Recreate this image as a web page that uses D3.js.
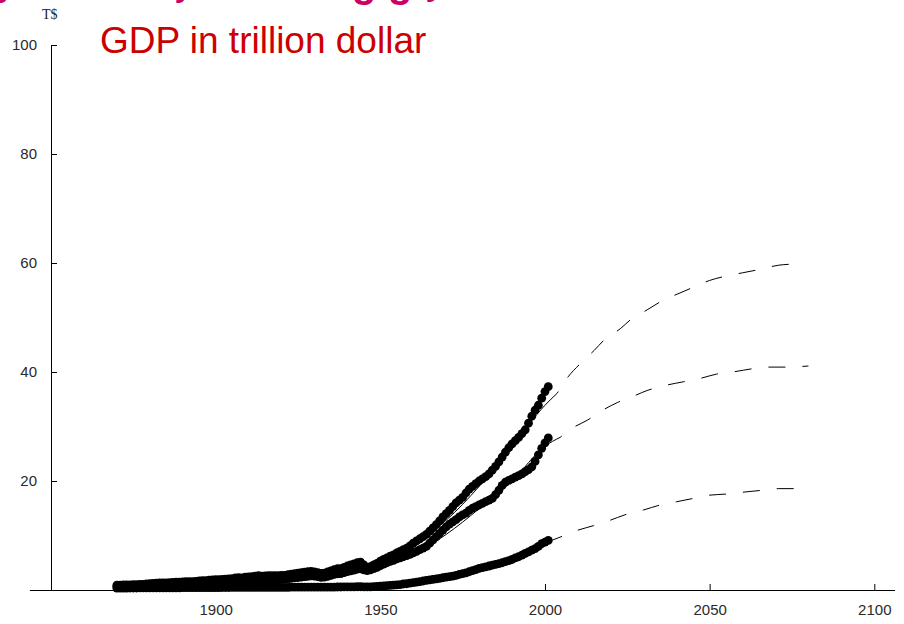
<!DOCTYPE html>
<html>
<head>
<meta charset="utf-8">
<script src="https://cdn.jsdelivr.net/npm/d3@7"></script>
<style>
  html, body { margin: 0; padding: 0; background: #fff; }
  svg { display: block; }
</style>
</head>
<body>
<svg id="chart" width="904" height="624"></svg>
<script>
// Years of the observed series (annual, 1870–2001)
const years = d3.range(1870, 2002);

// GDP in trillion dollars, three measures
const seriesHigh = [
  0.90,0.90,0.92,0.95,0.95,0.98,1.00,1.02,1.05,1.10,
  1.15,1.20,1.25,1.28,1.30,1.32,1.35,1.40,1.42,1.45,
  1.50,1.52,1.55,1.55,1.60,1.65,1.70,1.72,1.80,1.85,
  1.90,1.92,1.95,2.00,2.05,2.10,2.20,2.25,2.22,2.35,
  2.40,2.45,2.55,2.65,2.55,2.60,2.65,2.62,2.65,2.62,
  2.68,2.70,2.82,2.92,3.00,3.10,3.20,3.28,3.35,3.42,
  3.32,3.20,3.05,3.10,3.30,3.50,3.72,3.90,3.92,4.15,
  4.40,4.62,4.80,5.00,5.10,4.60,4.10,4.30,4.60,4.90,
  5.30,5.60,5.90,6.20,6.45,6.80,7.10,7.40,7.70,8.10,
  8.60,9.00,9.40,9.80,10.20,10.80,11.40,12.00,12.70,13.40,
  14.00,14.60,15.30,16.00,16.50,17.00,17.80,18.50,19.00,19.50,
  20.00,20.40,20.80,21.30,22.00,22.70,23.50,24.40,25.30,26.10,
  26.80,27.40,28.00,28.70,29.40,30.60,31.90,33.00,33.90,35.20,
  36.40,37.30
];

const seriesMid = [
  0.62,0.63,0.65,0.67,0.68,0.70,0.72,0.74,0.77,0.80,
  0.84,0.87,0.90,0.92,0.94,0.96,0.98,1.01,1.03,1.05,
  1.08,1.10,1.12,1.13,1.16,1.20,1.23,1.25,1.30,1.33,
  1.36,1.39,1.42,1.46,1.50,1.54,1.60,1.64,1.62,1.70,
  1.75,1.79,1.86,1.93,1.86,1.90,1.94,1.92,1.95,1.93,
  1.98,2.00,2.10,2.18,2.25,2.34,2.42,2.50,2.58,2.68,
  2.56,2.45,2.32,2.38,2.52,2.68,2.85,2.98,3.00,3.18,
  3.36,3.52,3.66,3.82,3.90,3.70,3.55,3.70,3.92,4.15,
  4.45,4.75,5.00,5.25,5.45,5.70,5.90,6.10,6.30,6.55,
  6.80,7.10,7.40,7.70,8.00,8.60,9.20,9.80,10.40,11.00,
  11.60,12.10,12.50,12.90,13.40,13.80,14.10,14.60,15.00,15.30,
  15.60,15.90,16.20,16.50,16.80,17.50,18.30,19.20,19.80,20.10,
  20.40,20.70,21.00,21.30,21.70,22.10,22.60,23.60,24.80,26.00,
  27.00,27.90
];

const seriesLow = [
  0.35,0.35,0.36,0.36,0.37,0.37,0.37,0.38,0.38,0.38,
  0.39,0.39,0.39,0.40,0.40,0.40,0.40,0.41,0.41,0.41,
  0.42,0.42,0.42,0.43,0.43,0.43,0.44,0.44,0.44,0.45,
  0.45,0.45,0.46,0.46,0.46,0.47,0.47,0.47,0.47,0.48,
  0.48,0.48,0.49,0.49,0.48,0.48,0.49,0.49,0.49,0.49,
  0.49,0.50,0.50,0.51,0.51,0.52,0.52,0.53,0.53,0.54,
  0.53,0.52,0.51,0.51,0.52,0.53,0.54,0.55,0.55,0.56,
  0.57,0.58,0.59,0.60,0.60,0.58,0.56,0.58,0.61,0.65,
  0.70,0.75,0.80,0.85,0.90,0.95,1.00,1.10,1.15,1.25,
  1.35,1.45,1.55,1.65,1.75,1.85,1.95,2.05,2.15,2.25,
  2.35,2.45,2.55,2.70,2.85,3.00,3.15,3.35,3.55,3.75,
  3.95,4.10,4.25,4.40,4.55,4.70,4.85,5.00,5.20,5.40,
  5.60,5.90,6.10,6.40,6.70,7.00,7.30,7.60,8.00,8.50,
  8.80,9.10
];

// Fitted curves (solid) over the observed period
const fitHighYears = [1900, 1910, 1920, 1930, 1940, 1950, 1960, 1970, 1980, 1990, 2000, 2003.7];
const fitHighValues = [1.0, 1.35, 1.85, 2.6, 3.8, 5.6, 8.4, 12.8, 19.0, 26.3, 33.9, 36.1];
const fitMidYears = [1900, 1910, 1920, 1930, 1940, 1950, 1960, 1970, 1980, 1990, 2000, 2004.6];
const fitMidValues = [0.8, 1.0, 1.35, 1.95, 2.9, 4.3, 6.5, 10.2, 14.9, 20.0, 26.4, 28.0];
const fitLowYears = [1900, 1920, 1940, 1950, 1960, 1970, 1980, 1990, 2000, 2004.6];
const fitLowValues = [0.3, 0.4, 0.55, 0.75, 1.35, 2.4, 3.9, 5.6, 8.6, 9.7];

// Projections (dashed)
const projHighYears = [2003.7, 2007, 2011, 2015, 2018, 2023, 2026, 2031, 2036, 2041, 2046, 2050, 2055, 2060, 2065, 2071, 2076];
const projHighValues = [36.1, 39.1, 41.7, 44.0, 45.9, 48.0, 49.6, 51.4, 53.2, 54.5, 55.8, 56.8, 57.6, 58.2, 58.8, 59.6, 59.8];
const projMidYears = [2004.6, 2008.6, 2013, 2017, 2022, 2027, 2031, 2037, 2042, 2047, 2052, 2058, 2063, 2068, 2073, 2080];
const projMidValues = [28.0, 29.8, 31.2, 32.8, 34.4, 35.6, 36.6, 37.6, 38.2, 38.8, 39.6, 40.1, 40.6, 40.9, 40.9, 41.1];
const projLowYears = [2004.6, 2009.6, 2014.7, 2019.8, 2024.3, 2030, 2035, 2040, 2045, 2050, 2055, 2061, 2066, 2071, 2076.5];
const projLowValues = [9.7, 10.9, 11.8, 12.8, 13.8, 14.7, 15.6, 16.2, 16.8, 17.4, 17.6, 18.0, 18.3, 18.6, 18.6];

// Axis ticks
const xMajorTicks = [1900, 1950, 2000, 2050, 2100];
const xMinorTicks = d3.range(1860, 2101, 10);
const yMajorTicks = [20, 40, 60, 80, 100];
const yMinorTicks = d3.range(5, 100, 5);

const titleText = "GDP in trillion dollar";
const unitText = "T$";

const svg = d3.select("#chart");

const x = d3.scaleLinear().domain([1850, 2100]).range([51, 874.3]);
const y = d3.scaleLinear().domain([0, 100]).range([590, 45]);

const tickFont = "'Liberation Sans', Arial, sans-serif";

// Heading band above the chart: only the descenders reach into view
const head = svg.append("text")
  .attr("fill", "#cc0066")
  .attr("font-family", tickFont)
  .attr("font-size", 40);
[["y", -3, -5, "normal"], ["y", 175, -5, "normal"], ["g", 352, -3, "bold"],
 ["g", 388, -3, "bold"], ["y", 426, -6, "normal"]].forEach(([t, px, py, w]) => {
  head.append("tspan").attr("x", px).attr("y", py).attr("font-weight", w).text(t);
});

// Title
svg.append("text")
  .attr("x", 100)
  .attr("y", 53)
  .attr("fill", "#cc0000")
  .attr("font-family", tickFont)
  .attr("font-size", 37)
  .text(titleText);

// Unit label
svg.append("text")
  .attr("x", 42)
  .attr("y", 19)
  .attr("fill", "#222")
  .attr("font-family", "'Liberation Serif', 'Times New Roman', serif")
  .attr("font-size", 14)
  .text(unitText);

// Axes
const gx = svg.append("g").attr("transform", `translate(0,${y(0)})`);
gx.call(d3.axisBottom(x).tickValues(xMinorTicks).tickSize(-4).tickFormat(""));
gx.call(d3.axisBottom(x).tickValues(xMajorTicks).tickSize(-6).tickPadding(14).tickFormat(d3.format("d")));
gx.selectAll(".domain").remove();

const gy = svg.append("g").attr("transform", `translate(${x(1850)},0)`);
gy.call(d3.axisLeft(y).tickValues(yMinorTicks).tickSize(-4).tickFormat(""));
gy.call(d3.axisLeft(y).tickValues(yMajorTicks).tickSize(-6).tickPadding(14).tickFormat(d3.format("d")));
gy.selectAll(".domain").remove();

svg.selectAll(".tick line").attr("stroke", "#000");
svg.selectAll(".tick text")
  .attr("fill", "#2a2a2a")
  .attr("font-family", tickFont)
  .attr("font-size", 15);

// Axis lines
svg.append("line")
  .attr("x1", x(1843.6)).attr("x2", x(2106.3))
  .attr("y1", y(0) + 0.5).attr("y2", y(0) + 0.5)
  .attr("stroke", "#000").attr("stroke-width", 1);
svg.append("line")
  .attr("x1", x(1850) + 0.5).attr("x2", x(1850) + 0.5)
  .attr("y1", y(100)).attr("y2", y(0))
  .attr("stroke", "#000").attr("stroke-width", 1);

const plot = svg.append("g");

// Observed dots
[seriesLow, seriesMid, seriesHigh].forEach(vals => {
  plot.append("g")
    .selectAll("circle")
    .data(years.map((yr, i) => [yr, vals[i]]))
    .join("circle")
    .attr("cx", d => x(d[0]))
    .attr("cy", d => y(d[1]))
    .attr("r", 4.4)
    .attr("fill", "#000");
});

const line = d3.line()
  .x(d => x(d[0]))
  .y(d => y(d[1]))
  .curve(d3.curveMonotoneX);

const zip = (a, b) => a.map((v, i) => [v, b[i]]);

// Fitted curves
[[fitHighYears, fitHighValues], [fitMidYears, fitMidValues], [fitLowYears, fitLowValues]].forEach(([ys, vs]) => {
  plot.append("path")
    .attr("d", line(zip(ys, vs)))
    .attr("fill", "none")
    .attr("stroke", "#000")
    .attr("stroke-width", 1);
});

// Projections
[[projHighYears, projHighValues], [projMidYears, projMidValues], [projLowYears, projLowValues]].forEach(([ys, vs]) => {
  plot.append("path")
    .attr("d", line(zip(ys, vs)))
    .attr("fill", "none")
    .attr("stroke", "#000")
    .attr("stroke-width", 1)
    .attr("stroke-dasharray", "17,17")
    .attr("stroke-dashoffset", 15);
});
</script>
</body>
</html>
